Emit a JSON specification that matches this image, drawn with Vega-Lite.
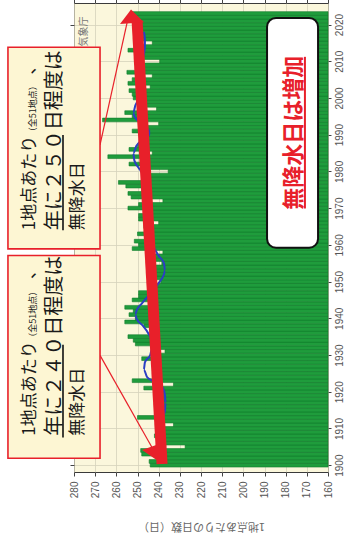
{
  "$schema": "https://vega.github.io/schema/vega-lite/v6.json",
  "width": 254,
  "height": 469,
  "autosize": {"type": "none"},
  "padding": {"left": 74, "top": 3, "right": 20, "bottom": 68},
  "background": "white",
  "config": {"view": {"fill": "#fbf7dc", "stroke": "#3a3a3a", "strokeWidth": 1}, "font": "Liberation Sans"},
  "resolve": {"axis": {"x": "independent", "y": "independent"}},
  "datasets": {
    "bars": [
      {"year": 1900, "days": 244}, {"year": 1901, "days": 244.5}, {"year": 1902, "days": 241}, {"year": 1903, "days": 248}, {"year": 1904, "days": 248.5},
      {"year": 1905, "days": 227.5}, {"year": 1906, "days": 240}, {"year": 1907, "days": 239}, {"year": 1908, "days": 242}, {"year": 1909, "days": 241},
      {"year": 1910, "days": 240}, {"year": 1911, "days": 233}, {"year": 1912, "days": 241}, {"year": 1913, "days": 250}, {"year": 1914, "days": 240},
      {"year": 1915, "days": 241}, {"year": 1916, "days": 240}, {"year": 1917, "days": 241.5}, {"year": 1918, "days": 240}, {"year": 1919, "days": 241},
      {"year": 1920, "days": 242}, {"year": 1921, "days": 247}, {"year": 1922, "days": 233}, {"year": 1923, "days": 252.5}, {"year": 1924, "days": 242.5},
      {"year": 1925, "days": 241}, {"year": 1926, "days": 242.5}, {"year": 1927, "days": 242}, {"year": 1928, "days": 243}, {"year": 1929, "days": 248},
      {"year": 1930, "days": 242}, {"year": 1931, "days": 237}, {"year": 1932, "days": 242}, {"year": 1933, "days": 251}, {"year": 1934, "days": 252},
      {"year": 1935, "days": 254.5}, {"year": 1936, "days": 244}, {"year": 1937, "days": 243}, {"year": 1938, "days": 247}, {"year": 1939, "days": 256},
      {"year": 1940, "days": 251}, {"year": 1941, "days": 254}, {"year": 1942, "days": 252}, {"year": 1943, "days": 256}, {"year": 1944, "days": 244},
      {"year": 1945, "days": 252.5}, {"year": 1946, "days": 249.5}, {"year": 1947, "days": 249.5}, {"year": 1948, "days": 244}, {"year": 1949, "days": 243},
      {"year": 1950, "days": 239}, {"year": 1951, "days": 244}, {"year": 1952, "days": 245}, {"year": 1953, "days": 243.5}, {"year": 1954, "days": 244},
      {"year": 1955, "days": 238.5}, {"year": 1956, "days": 245}, {"year": 1957, "days": 244}, {"year": 1958, "days": 238}, {"year": 1959, "days": 252.5},
      {"year": 1960, "days": 249.5}, {"year": 1961, "days": 251.5}, {"year": 1962, "days": 246}, {"year": 1963, "days": 250}, {"year": 1964, "days": 246},
      {"year": 1965, "days": 247}, {"year": 1966, "days": 240}, {"year": 1967, "days": 249.5}, {"year": 1968, "days": 249.5}, {"year": 1969, "days": 247},
      {"year": 1970, "days": 254.5}, {"year": 1971, "days": 249.5}, {"year": 1972, "days": 238}, {"year": 1973, "days": 253}, {"year": 1974, "days": 254.5},
      {"year": 1975, "days": 248}, {"year": 1976, "days": 255.5}, {"year": 1977, "days": 259}, {"year": 1978, "days": 248}, {"year": 1979, "days": 248},
      {"year": 1980, "days": 235.5}, {"year": 1981, "days": 248.5}, {"year": 1982, "days": 254}, {"year": 1983, "days": 248.5}, {"year": 1984, "days": 264},
      {"year": 1985, "days": 243}, {"year": 1986, "days": 254}, {"year": 1987, "days": 250}, {"year": 1988, "days": 249}, {"year": 1989, "days": 247.5},
      {"year": 1990, "days": 248}, {"year": 1991, "days": 252.5}, {"year": 1992, "days": 249}, {"year": 1993, "days": 240}, {"year": 1994, "days": 266.5},
      {"year": 1995, "days": 252.5}, {"year": 1996, "days": 256}, {"year": 1997, "days": 241}, {"year": 1998, "days": 249.5}, {"year": 1999, "days": 250},
      {"year": 2000, "days": 252}, {"year": 2001, "days": 252.5}, {"year": 2002, "days": 254}, {"year": 2003, "days": 244}, {"year": 2004, "days": 254.5},
      {"year": 2005, "days": 252.5}, {"year": 2006, "days": 243}, {"year": 2007, "days": 255}, {"year": 2008, "days": 250.5}, {"year": 2009, "days": 249},
      {"year": 2010, "days": 239.5}, {"year": 2011, "days": 250}, {"year": 2012, "days": 251}, {"year": 2013, "days": 254.5}, {"year": 2014, "days": 250},
      {"year": 2015, "days": 243}, {"year": 2016, "days": 249}, {"year": 2017, "days": 250}, {"year": 2018, "days": 251}, {"year": 2019, "days": 249.5},
      {"year": 2020, "days": 250}, {"year": 2021, "days": 251}, {"year": 2022, "days": 253}, {"year": 2023, "days": 253}
    ],
    "ma": [
      {"year": 1905, "days": 239.5}, {"year": 1907, "days": 239.2}, {"year": 1909, "days": 239}, {"year": 1911, "days": 238.5}, {"year": 1913, "days": 238},
      {"year": 1915, "days": 237}, {"year": 1917, "days": 236.8}, {"year": 1919, "days": 237}, {"year": 1921, "days": 238}, {"year": 1922, "days": 240},
      {"year": 1923, "days": 243}, {"year": 1924, "days": 245.5}, {"year": 1926, "days": 247}, {"year": 1928, "days": 246.5}, {"year": 1930, "days": 244},
      {"year": 1932, "days": 243}, {"year": 1934, "days": 243.5}, {"year": 1936, "days": 245}, {"year": 1938, "days": 247.5}, {"year": 1940, "days": 250.5},
      {"year": 1941, "days": 251}, {"year": 1942, "days": 250.5}, {"year": 1944, "days": 248}, {"year": 1946, "days": 245}, {"year": 1948, "days": 242},
      {"year": 1950, "days": 239.5}, {"year": 1952, "days": 237.5}, {"year": 1953, "days": 237}, {"year": 1955, "days": 237.5}, {"year": 1957, "days": 240},
      {"year": 1959, "days": 242}, {"year": 1961, "days": 244.5}, {"year": 1963, "days": 245}, {"year": 1965, "days": 245}, {"year": 1967, "days": 245.5},
      {"year": 1969, "days": 246}, {"year": 1971, "days": 246}, {"year": 1973, "days": 246.5}, {"year": 1975, "days": 247}, {"year": 1977, "days": 247},
      {"year": 1979, "days": 247.5}, {"year": 1981, "days": 249.5}, {"year": 1983, "days": 251.5}, {"year": 1985, "days": 252}, {"year": 1987, "days": 250.5},
      {"year": 1989, "days": 246.5}, {"year": 1990, "days": 244.5}, {"year": 1991, "days": 244.5}, {"year": 1993, "days": 248}, {"year": 1995, "days": 251.5},
      {"year": 1996, "days": 252}, {"year": 1998, "days": 251}, {"year": 2000, "days": 249.5}, {"year": 2003, "days": 249}, {"year": 2006, "days": 248.5},
      {"year": 2009, "days": 248}, {"year": 2012, "days": 247}, {"year": 2014, "days": 246.5}, {"year": 2016, "days": 246.5}, {"year": 2018, "days": 247}
    ],
    "pointers": [
      {"days": 267.7, "year": 1987.2, "days2": 254.5, "year2": 2021.6},
      {"days": 267.7, "year": 1929.9, "days2": 243.2, "year2": 1904.9}
    ],
    "shaft": [{"days": 238.4, "year": 1900.3, "days2": 250.2, "year2": 2021.0}],
    "bighead": [{"days": 252.6, "year": 2022.1}],
    "smallhead": [{"days": 242.5, "year": 1904.0}],
    "boxes": [
      {"days": 311.2, "days2": 267.7, "year": 2013.8, "year2": 1958.9},
      {"days": 311.2, "days2": 267.7, "year": 1957.1, "year2": 1901.9}
    ],
    "underlines": [
      {"days": 285.2, "year": 1964.0, "days2": 285.2, "year2": 1989.9},
      {"days": 285.2, "year": 1907.5, "days2": 285.2, "year2": 1932.8}
    ],
    "notes_main": [
      {"days": 300.8, "year": 1964.0, "label": "1地点あたり"},
      {"days": 300.8, "year": 2006.4, "label": "、"},
      {"days": 278.3, "year": 1964.0, "label": "無降水日"},
      {"days": 300.8, "year": 1908.0, "label": "1地点あたり"},
      {"days": 300.8, "year": 1950.7, "label": "、"},
      {"days": 278.3, "year": 1908.0, "label": "無降水日"}
    ],
    "notes_emph": [
      {"days": 288.8, "year": 1964.0, "label": "年に２５０日程度は"},
      {"days": 288.8, "year": 1908.0, "label": "年に２４０日程度は"}
    ],
    "notes_small": [
      {"days": 299.2, "year": 1989.6, "label": "（全51地点）"},
      {"days": 299.2, "year": 1933.6, "label": "（全51地点）"}
    ],
    "whitebox": [{"days": 188.8, "days2": 164.7, "year": 2021.8, "year2": 1959.2}],
    "headline": [{"days": 176.0, "year": 1990.5, "label": "無降水日は増加"}],
    "headline_ul": [{"days": 170.9, "year": 2011.2, "days2": 170.9, "year2": 1969.9}],
    "source": [{"days": 275.3, "year": 2018.1, "label": "気象庁"}]
  },
  "layer": [
    {
      "data": {"name": "bars"},
      "mark": {"type": "bar", "orient": "horizontal", "height": 3.75, "fill": "#1f9c3c", "stroke": "#117a2b", "strokeWidth": 0.6},
      "encoding": {
        "y": {"field": "year", "type": "quantitative",
          "scale": {"domain": [1899.5, 2024.5], "nice": false, "zero": false},
          "axis": {"orient": "right", "values": [1900, 1910, 1920, 1930, 1940, 1950, 1960, 1970, 1980, 1990, 2000, 2010, 2020],
            "format": "d", "title": null, "labelAngle": 270, "labelAlign": "center", "labelBaseline": "top",
            "labelFontSize": 10, "labelColor": "#555555", "tickSize": 3, "tickColor": "#444444", "labelPadding": 3,
            "domain": false, "grid": true, "gridColor": "#d6d2bb", "gridWidth": 0.8}},
        "x": {"field": "days", "type": "quantitative",
          "scale": {"domain": [160, 280], "reverse": true, "nice": false, "zero": false},
          "axis": {"orient": "bottom", "values": [160, 170, 180, 190, 200, 210, 220, 230, 240, 250, 260, 270, 280],
            "title": "1地点あたりの日数（日）", "titleAngle": 180, "titleFont": "Noto Sans CJK JP", "titleFontSize": 11,
            "titleFontWeight": "normal", "titleColor": "#666666", "titleY": 53, "titleBaseline": "middle", "titleAlign": "center",
            "labelAngle": 270, "labelAlign": "right", "labelBaseline": "middle", "labelFontSize": 10, "labelColor": "#555555",
            "tickSize": 4, "tickColor": "#444444", "labelPadding": 5, "domain": false, "grid": true, "gridColor": "#d6d2bb", "gridWidth": 0.8}},
        "x2": {"datum": 160}
      }
    },
    {
      "data": {"name": "ma"},
      "mark": {"type": "line", "color": "#2b3fc4", "strokeWidth": 2, "interpolate": "monotone"},
      "encoding": {
        "y": {"field": "year", "type": "quantitative",
          "scale": {"domain": [1899.5, 2024.5], "nice": false, "zero": false},
          "axis": {"orient": "left", "labels": false, "tickSize": 4, "tickColor": "#444444", "domain": false, "grid": false, "title": null,
            "values": [1900, 1910, 1920, 1930, 1940, 1950, 1960, 1970, 1980, 1990, 2000, 2010, 2020]}},
        "x": {"field": "days", "type": "quantitative",
          "scale": {"domain": [160, 280], "reverse": true, "nice": false, "zero": false},
          "axis": {"orient": "top", "labels": false, "tickSize": 4, "tickColor": "#444444", "domain": false, "grid": false, "title": null,
            "values": [160, 170, 180, 190, 200, 210, 220, 230, 240, 250, 260, 270, 280]}},
        "order": {"field": "year"}
      }
    },
    {
      "data": {"name": "pointers"},
      "mark": {"type": "rule", "color": "#e8202a", "strokeWidth": 1.2},
      "encoding": {
        "x": {"field": "days", "type": "quantitative", "axis": null},
        "y": {"field": "year", "type": "quantitative", "axis": null},
        "x2": {"field": "days2"}, "y2": {"field": "year2"}
      }
    },
    {
      "data": {"name": "shaft"},
      "mark": {"type": "rule", "color": "#e8202a", "strokeWidth": 11, "strokeCap": "butt"},
      "encoding": {
        "x": {"field": "days", "type": "quantitative", "axis": null},
        "y": {"field": "year", "type": "quantitative", "axis": null},
        "x2": {"field": "days2"}, "y2": {"field": "year2"}
      }
    },
    {
      "data": {"name": "bighead"},
      "mark": {"type": "point", "shape": "M-0.08,-0.6L1,0.45L-1,0.6Z", "size": 576, "filled": true, "color": "#e8202a", "opacity": 1},
      "encoding": {
        "x": {"field": "days", "type": "quantitative", "axis": null},
        "y": {"field": "year", "type": "quantitative", "axis": null}
      }
    },
    {
      "data": {"name": "smallhead"},
      "mark": {"type": "point", "shape": "M0,-1L1,0.4L-1,0.4Z", "size": 441, "angle": 160, "filled": true, "color": "#e8202a", "opacity": 1},
      "encoding": {
        "x": {"field": "days", "type": "quantitative", "axis": null},
        "y": {"field": "year", "type": "quantitative", "axis": null}
      }
    },
    {
      "data": {"name": "boxes"},
      "mark": {"type": "rect", "fill": "#fdf6d3", "stroke": "#e8202a", "strokeWidth": 1.6},
      "encoding": {
        "x": {"field": "days", "type": "quantitative", "axis": null},
        "y": {"field": "year", "type": "quantitative", "axis": null},
        "x2": {"field": "days2"}, "y2": {"field": "year2"}
      }
    },
    {
      "data": {"name": "underlines"},
      "mark": {"type": "rule", "color": "#111111", "strokeWidth": 1.6},
      "encoding": {
        "x": {"field": "days", "type": "quantitative", "axis": null},
        "y": {"field": "year", "type": "quantitative", "axis": null},
        "x2": {"field": "days2"}, "y2": {"field": "year2"}
      }
    },
    {
      "data": {"name": "notes_main"},
      "mark": {"type": "text", "angle": 270, "align": "left", "baseline": "middle", "font": "Noto Sans CJK JP", "fontSize": 17, "color": "#1a1a1a"},
      "encoding": {
        "x": {"field": "days", "type": "quantitative", "axis": null},
        "y": {"field": "year", "type": "quantitative", "axis": null},
        "text": {"field": "label"}
      }
    },
    {
      "data": {"name": "notes_emph"},
      "mark": {"type": "text", "angle": 270, "align": "left", "baseline": "middle", "font": "Noto Sans CJK JP", "fontSize": 20, "color": "#1a1a1a"},
      "encoding": {
        "x": {"field": "days", "type": "quantitative", "axis": null},
        "y": {"field": "year", "type": "quantitative", "axis": null},
        "text": {"field": "label"}
      }
    },
    {
      "data": {"name": "notes_small"},
      "mark": {"type": "text", "angle": 270, "align": "left", "baseline": "middle", "font": "Noto Sans CJK JP", "fontSize": 9, "color": "#1a1a1a"},
      "encoding": {
        "x": {"field": "days", "type": "quantitative", "axis": null},
        "y": {"field": "year", "type": "quantitative", "axis": null},
        "text": {"field": "label"}
      }
    },
    {
      "data": {"name": "whitebox"},
      "mark": {"type": "rect", "fill": "white", "stroke": "#111111", "strokeWidth": 2, "cornerRadius": 9},
      "encoding": {
        "x": {"field": "days", "type": "quantitative", "axis": null},
        "y": {"field": "year", "type": "quantitative", "axis": null},
        "x2": {"field": "days2"}, "y2": {"field": "year2"}
      }
    },
    {
      "data": {"name": "headline"},
      "mark": {"type": "text", "angle": 270, "align": "center", "baseline": "middle", "font": "Noto Sans CJK JP", "fontSize": 22, "fontWeight": "bold", "color": "#e8202a"},
      "encoding": {
        "x": {"field": "days", "type": "quantitative", "axis": null},
        "y": {"field": "year", "type": "quantitative", "axis": null},
        "text": {"field": "label"}
      }
    },
    {
      "data": {"name": "headline_ul"},
      "mark": {"type": "rule", "color": "#e8202a", "strokeWidth": 2},
      "encoding": {
        "x": {"field": "days", "type": "quantitative", "axis": null},
        "y": {"field": "year", "type": "quantitative", "axis": null},
        "x2": {"field": "days2"}, "y2": {"field": "year2"}
      }
    },
    {
      "data": {"name": "source"},
      "mark": {"type": "text", "angle": 270, "align": "center", "baseline": "middle", "font": "Noto Sans CJK JP", "fontSize": 10, "color": "#777777"},
      "encoding": {
        "x": {"field": "days", "type": "quantitative", "axis": null},
        "y": {"field": "year", "type": "quantitative", "axis": null},
        "text": {"field": "label"}
      }
    }
  ]
}
